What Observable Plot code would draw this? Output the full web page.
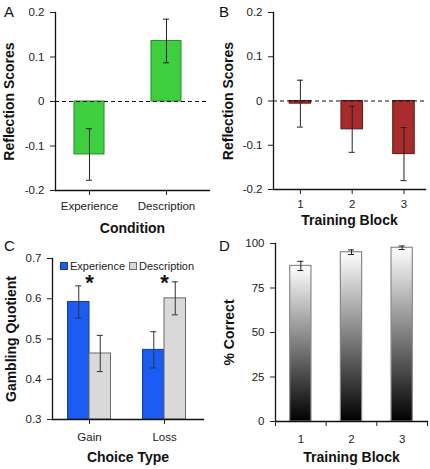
<!DOCTYPE html>
<html>
<head>
<meta charset="utf-8">
<script src="https://cdn.jsdelivr.net/npm/d3@7"></script>
<script src="https://cdn.jsdelivr.net/npm/@observablehq/plot@0.6"></script>
<style>
  html, body { margin: 0; padding: 0; background: #fff; }
  #wrap { position: relative; width: 430px; height: 469px; overflow: hidden; font-family: "Liberation Sans", Arial, sans-serif; }
  .panel { position: absolute; }
  .letter { position: absolute; font-size: 15px; color: #111; font-family: "Liberation Sans", Arial, sans-serif; }
  svg [aria-label$="axis label"] text, svg [aria-label$="axis label"] { font-weight: bold; font-size: 14px; fill: #111; }
  .legend { position: absolute; font-size: 11px; color: #222; display: flex; align-items: center; white-space: nowrap; }
  .sw { display: inline-block; width: 6px; height: 6px; border: 1px solid; margin-right: 2px; }
</style>
</head>
<body>
<div id="wrap"></div>
<script>
// ---- Data ----
const conditions = ["Experience", "Description"];
const reflectionByCondition = [-0.119, 0.136];
const reflectionByConditionErr = [0.058, 0.049];

const blocks = ["1", "2", "3"];
const reflectionByBlock = [-0.006, -0.064, -0.12];
const reflectionByBlockErr = [0.053, 0.052, 0.06];

const choiceTypes = ["Gain", "Loss"];
const groups = ["Experience", "Description"];
const gqExperience = [0.592, 0.473];
const gqExperienceErr = [0.04, 0.045];
const gqDescription = [0.464, 0.601];
const gqDescriptionErr = [0.045, 0.041];
const significant = ["Gain", "Loss"];

const pctCorrect = [87.4, 95.1, 97.6];
const pctCorrectErr = [2.6, 1.3, 1.0];

const reflTicks = [-0.2, -0.1, 0, 0.1, 0.2];
const gqTicks = [0.3, 0.4, 0.5, 0.6, 0.7];
const pctTicks = [0, 25, 50, 75, 100];

// ---- helpers ----
const wrap = document.getElementById("wrap");
const baseStyle = { fontSize: "11.5px", fontFamily: "Liberation Sans, Arial, sans-serif", color: "#222", background: "transparent", overflow: "visible" };
const fmt1 = d => d === 0 ? "0" : d.toFixed(1);
function place(node, left, top) {
  const d = document.createElement("div");
  d.className = "panel"; d.style.left = left + "px"; d.style.top = top + "px";
  d.appendChild(node); wrap.appendChild(d);
}
function letter(t, left, top) {
  const d = document.createElement("div");
  d.className = "letter"; d.textContent = t; d.style.left = left + "px"; d.style.top = top + "px";
  wrap.appendChild(d);
}
const capW = 6;

// ---- Panel A ----
{
  const data = conditions.map((c, i) => ({c, v: reflectionByCondition[i], e: reflectionByConditionErr[i]}));
  const ml = 55, mr = 6, w = 215;
  const xs = {domain: conditions, paddingInner: 0.61, paddingOuter: 0.305, align: 0.404, round: false};
  const bw = d3.scaleBand().domain(conditions).range([ml, w - mr]).paddingInner(xs.paddingInner).paddingOuter(xs.paddingOuter).align(xs.align).bandwidth();
  const inset = (bw - capW) / 2;
  const p = Plot.plot({
    width: w, height: 235, marginLeft: ml, marginRight: mr, marginTop: 12, marginBottom: 45,
    style: baseStyle,
    x: xs,
    y: {domain: [-0.2, 0.2]},
    marks: [
      Plot.barY(data, {x: "c", y: "v", fill: "#3ecf3e", stroke: "#2a8a2a", strokeWidth: 1}),
      Plot.ruleY([0], {stroke: "#111", strokeDasharray: "4,3", strokeWidth: 1.2}),
      Plot.ruleX(data, {x: "c", y1: d => d.v - d.e, y2: d => d.v + d.e, stroke: "#222"}),
      Plot.tickY(data, {x: "c", y: d => d.v - d.e, insetLeft: inset, insetRight: inset, stroke: "#222"}),
      Plot.tickY(data, {x: "c", y: d => d.v + d.e, insetLeft: inset, insetRight: inset, stroke: "#222"}),
      Plot.frame({anchor: "left", stroke: "#111", strokeWidth: 1.3}),
      Plot.frame({anchor: "bottom", stroke: "#111", strokeWidth: 1.3}),
      Plot.axisY({ticks: reflTicks, tickFormat: fmt1, tickSize: 5, tickPadding: 6, label: "Reflection Scores", labelArrow: "none", labelAnchor: "center", labelOffset: 51}),
      Plot.axisX({tickSize: 5, tickPadding: 6, label: "Condition", labelArrow: "none", labelAnchor: "center", labelOffset: 42})
    ]
  });
  place(p, 0, 0);
  letter("A", 4, 3);
}

// ---- Panel B ----
{
  const data = blocks.map((b, i) => ({b, v: reflectionByBlock[i], e: reflectionByBlockErr[i]}));
  const ml = 58, mr = 5, w = 215;
  const xs = {domain: blocks, paddingInner: 0.585, paddingOuter: 0.26, align: 0.6, round: false};
  const bw = d3.scaleBand().domain(blocks).range([ml, w - mr]).paddingInner(xs.paddingInner).paddingOuter(xs.paddingOuter).align(xs.align).bandwidth();
  const inset = (bw - capW) / 2;
  const p = Plot.plot({
    width: w, height: 235, marginLeft: ml, marginRight: mr, marginTop: 12, marginBottom: 46,
    style: baseStyle,
    x: xs,
    y: {domain: [-0.2, 0.2]},
    marks: [
      Plot.barY(data, {x: "b", y: "v", fill: "#a82c2c", stroke: "#5a1616", strokeWidth: 1}),
      Plot.ruleY([0], {stroke: "#111", strokeDasharray: "4,3", strokeWidth: 1.2}),
      Plot.ruleX(data, {x: "b", y1: d => d.v - d.e, y2: d => d.v + d.e, stroke: "#222"}),
      Plot.tickY(data, {x: "b", y: d => d.v - d.e, insetLeft: inset, insetRight: inset, stroke: "#222"}),
      Plot.tickY(data, {x: "b", y: d => d.v + d.e, insetLeft: inset, insetRight: inset, stroke: "#222"}),
      Plot.frame({anchor: "left", stroke: "#111", strokeWidth: 1.3}),
      Plot.frame({anchor: "bottom", stroke: "#111", strokeWidth: 1.3}),
      Plot.axisY({ticks: reflTicks, tickFormat: fmt1, tickSize: 5, tickPadding: 6, label: "Reflection Scores", labelArrow: "none", labelAnchor: "center", labelOffset: 50}),
      Plot.axisX({tickSize: 5, tickPadding: 5, label: "Training Block", labelArrow: "none", labelAnchor: "center", labelOffset: 35})
    ]
  });
  place(p, 215, 0);
  letter("B", 219, 3);
}

// ---- Panel C ----
{
  const exp = choiceTypes.map((t, i) => ({t, v: gqExperience[i], e: gqExperienceErr[i]}));
  const des = choiceTypes.map((t, i) => ({t, v: gqDescription[i], e: gqDescriptionErr[i]}));
  const ml = 52, mr = 12, w = 215;
  const xs = {domain: choiceTypes, paddingInner: 0.427, paddingOuter: 0.22, align: 0.47, round: false};
  const bw = d3.scaleBand().domain(choiceTypes).range([ml, w - mr]).paddingInner(xs.paddingInner).paddingOuter(xs.paddingOuter).align(xs.align).bandwidth();
  const half = bw / 2;
  const q = bw / 4;
  const capL = {insetLeft: q - capW / 2, insetRight: bw - q - capW / 2};
  const capR = {insetLeft: bw - q - capW / 2, insetRight: q - capW / 2};
  const stars = significant.map(t => ({t, y: 0.643}));
  const p = Plot.plot({
    width: w, height: 234, marginLeft: ml, marginRight: mr, marginTop: 23, marginBottom: 50,
    style: baseStyle,
    x: xs,
    y: {domain: [0.3, 0.7]},
    marks: [
      Plot.barY(exp, {x: "t", y1: 0.3, y2: "v", insetRight: half, fill: "#1b5cf2", stroke: "#1a3a8f", strokeWidth: 1}),
      Plot.barY(des, {x: "t", y1: 0.3, y2: "v", insetLeft: half, fill: "#d9d9d9", stroke: "#6a6a6a", strokeWidth: 1}),
      Plot.ruleX(exp, {x: "t", dx: -q, y1: d => d.v - d.e, y2: d => d.v + d.e, stroke: "#333"}),
      Plot.ruleX(des, {x: "t", dx: q, y1: d => d.v - d.e, y2: d => d.v + d.e, stroke: "#333"}),
      Plot.tickY(exp, {x: "t", y: d => d.v - d.e, ...capL, stroke: "#333"}),
      Plot.tickY(exp, {x: "t", y: d => d.v + d.e, ...capL, stroke: "#333"}),
      Plot.tickY(des, {x: "t", y: d => d.v - d.e, ...capR, stroke: "#333"}),
      Plot.tickY(des, {x: "t", y: d => d.v + d.e, ...capR, stroke: "#333"}),
      Plot.text(stars, {x: "t", y: "y", text: () => "*", fontSize: 22, fontWeight: "bold", fill: "#111", dy: 2}),
      Plot.frame({anchor: "left", stroke: "#111", strokeWidth: 1.3}),
      Plot.frame({anchor: "bottom", stroke: "#111", strokeWidth: 1.3}),
      Plot.axisY({ticks: gqTicks, tickFormat: d => d.toFixed(1), tickSize: 5, tickPadding: 6, label: "Gambling Quotient", labelArrow: "none", labelAnchor: "center", labelOffset: 46}),
      Plot.axisX({tickSize: 5, tickPadding: 8, label: "Choice Type", labelArrow: "none", labelAnchor: "center", labelOffset: 42})
    ]
  });
  place(p, 0, 235);
  letter("C", 4, 237);
  const lg = document.createElement("div");
  lg.className = "legend"; lg.style.left = "60px"; lg.style.top = "260px";
  lg.innerHTML = `<span class="sw" style="background:#1b5cf2;border-color:#1a3a8f"></span>${groups[0]}<span class="sw" style="background:#d9d9d9;border-color:#6a6a6a;margin-left:4px"></span>${groups[1]}`;
  wrap.appendChild(lg);
}

// ---- Panel D ----
{
  const data = blocks.map((b, i) => ({b, v: pctCorrect[i], e: pctCorrectErr[i]}));
  const ml = 60, mr = 3, w = 215;
  const xs = {domain: blocks, paddingInner: 0.58, paddingOuter: 0.29, align: 0.5, round: false};
  const sc = d3.scaleBand().domain(blocks).range([ml, w - mr]).paddingInner(xs.paddingInner).paddingOuter(xs.paddingOuter).align(xs.align);
  const bw = sc.bandwidth(), step = sc.step();
  const inset = (bw - capW) / 2;
  const gradient = () => {
    const defs = d3.create("svg:defs");
    const g = defs.append("linearGradient").attr("id", "gradD").attr("x1", 0).attr("y1", 0).attr("x2", 0).attr("y2", 1);
    g.append("stop").attr("offset", "0%").attr("stop-color", "#ffffff");
    g.append("stop").attr("offset", "100%").attr("stop-color", "#000000");
    return defs.node();
  };
  const p = Plot.plot({
    width: w, height: 234, marginLeft: ml, marginRight: mr, marginTop: 8, marginBottom: 48,
    style: baseStyle,
    x: xs,
    y: {domain: [0, 100]},
    marks: [
      gradient,
      Plot.barY(data, {x: "b", y: "v", fill: "url(#gradD)", stroke: "#8a8a8a", strokeWidth: 1.2}),
      Plot.ruleX(data, {x: "b", y1: d => d.v - d.e, y2: d => d.v + d.e, stroke: "#222"}),
      Plot.tickY(data, {x: "b", y: d => d.v - d.e, insetLeft: inset, insetRight: inset, stroke: "#222"}),
      Plot.tickY(data, {x: "b", y: d => d.v + d.e, insetLeft: inset, insetRight: inset, stroke: "#222"}),
      Plot.frame({anchor: "left", stroke: "#111", strokeWidth: 1.3}),
      Plot.frame({anchor: "bottom", stroke: "#111", strokeWidth: 1.3}),
      Plot.axisY({ticks: pctTicks, tickSize: 5, tickPadding: 6, label: "% Correct", labelArrow: "none", labelAnchor: "center", labelOffset: 51}),
      Plot.axisX({ticks: blocks, tickSize: 5, tickFormat: () => "", dx: -step / 2, label: null}),
      Plot.axisX({ticks: blocks.slice(-1), tickSize: 5, tickFormat: () => "", dx: step / 2, label: null}),
      Plot.axisX({tickSize: 0, tickPadding: 13, label: "Training Block", labelArrow: "none", labelAnchor: "center", labelOffset: 40})
    ]
  });
  place(p, 215, 235);
  letter("D", 219, 237);
}
</script>
</body>
</html>
